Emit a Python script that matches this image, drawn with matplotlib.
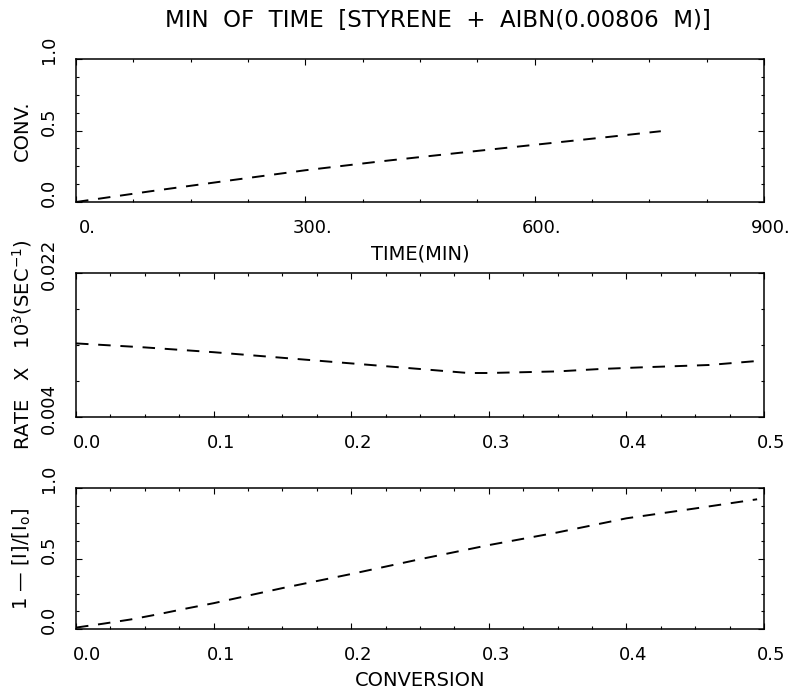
import numpy as np
import matplotlib
matplotlib.use("Agg")
import matplotlib.pyplot as plt
from matplotlib.transforms import ScaledTranslation
from matplotlib.ticker import MultipleLocator, FixedLocator

plt.rcParams['font.family'] = ['DejaVu Sans']
plt.rcParams['lines.scale_dashes'] = False
plt.rcParams['mathtext.fontset'] = 'dejavusans'

# --- data ---
time_min = [0, 100, 200, 300, 400, 500, 600, 700, 765]
conv_time = [0.0, 0.077, 0.150, 0.222, 0.285, 0.343, 0.400, 0.457, 0.495]

conv_rate = [0.0, 0.05, 0.10, 0.15, 0.20, 0.25, 0.285, 0.30, 0.35, 0.381, 0.41, 0.46, 0.495]
rate_vals = [0.0132, 0.0127, 0.0121, 0.0114, 0.0107, 0.0100, 0.0095, 0.0095, 0.0097, 0.0100, 0.0102, 0.0105, 0.0110]

conv_init = [0.0, 0.02, 0.04, 0.06, 0.08, 0.10, 0.15, 0.20, 0.25, 0.30, 0.35, 0.40, 0.45, 0.495]
init_frac = [0.01, 0.038, 0.068, 0.105, 0.145, 0.183, 0.29, 0.39, 0.495, 0.595, 0.685, 0.785, 0.855, 0.92]

time_ticks = [0, 300, 600, 900]
time_labels = ['0.', '300.', '600.', '900.']
conv_ticks = [0.0, 0.1, 0.2, 0.3, 0.4, 0.5]
conv_labels = ['0.0', '0.1', '0.2', '0.3', '0.4', '0.5']
frac_ticks = [0.0, 0.5, 1.0]
frac_labels = ['0.0', '0.5', '1.0']
rate_ticks = [0.004, 0.022]
rate_labels = ['0.004', '0.022']

title = 'MIN  OF  TIME  [STYRENE  +  AIBN(0.00806  M)]'

W, H = 794, 692
fig = plt.figure(figsize=(W / 100, H / 100), dpi=100)

L, R = 76, 764

def px_axes(top, bottom):
    return fig.add_axes([L / W, 1 - bottom / H, (R - L) / W, (bottom - top) / H])

ax1 = px_axes(59, 202)
ax2 = px_axes(273, 417)
ax3 = px_axes(488, 629)

dash = dict(color='black', lw=1.4, dashes=(9, 7))
ax1.plot(time_min, conv_time, **dash)
ax2.plot(conv_rate, rate_vals, **dash)
ax3.plot(conv_init, init_frac, **dash)

TICK_FS = 13
LABEL_FS = 14

def shift(lab, dx_px, dy_px):
    lab.set_transform(lab.get_transform() + ScaledTranslation(dx_px / 100, dy_px / 100, fig.dpi_scale_trans))

def style(ax):
    for s in ax.spines.values():
        s.set_linewidth(1.1)
    ax.tick_params(which='both', direction='in', top=True, right=True, width=0.8,
                   labelsize=TICK_FS)
    ax.tick_params(which='major', length=4)
    ax.tick_params(which='minor', length=2.3)
    ax.tick_params(axis='x', pad=12)
    ax.tick_params(axis='y', pad=13)
    for lab in ax.get_yticklabels():
        lab.set_rotation(90)
        lab.set_va('center')
        shift(lab, 0, 9)
    for i, lab in enumerate(ax.get_xticklabels()):
        shift(lab, 11 if i == 0 else 7, 0)

# top panel
ax1.set_xlim(0, 900)
ax1.set_ylim(0, 1)
ax1.set_xticks(time_ticks)
ax1.set_xticklabels(time_labels)
ax1.xaxis.set_minor_locator(MultipleLocator(75))
ax1.set_yticks(frac_ticks)
ax1.set_yticklabels(frac_labels)
ax1.yaxis.set_minor_locator(MultipleLocator(0.125))
style(ax1)
ax1.set_xlabel('TIME(MIN)', fontsize=LABEL_FS)
ax1.set_ylabel('CONV.', fontsize=LABEL_FS)

# middle panel
ax2.set_xlim(0, 0.5)
ax2.set_ylim(0.004, 0.022)
ax2.set_xticks(conv_ticks)
ax2.set_xticklabels(conv_labels)
ax2.xaxis.set_minor_locator(MultipleLocator(0.025))
ax2.set_yticks(rate_ticks)
ax2.set_yticklabels(rate_labels)
ax2.yaxis.set_minor_locator(FixedLocator([0.0085, 0.013, 0.0175]))
style(ax2)
ax2.set_ylabel(r'RATE   X   10$^3$(SEC$^{-1}$)', fontsize=LABEL_FS)

# bottom panel
ax3.set_xlim(0, 0.5)
ax3.set_ylim(0, 1)
ax3.set_xticks(conv_ticks)
ax3.set_xticklabels(conv_labels)
ax3.xaxis.set_minor_locator(MultipleLocator(0.025))
ax3.set_yticks(frac_ticks)
ax3.set_yticklabels(frac_labels)
ax3.yaxis.set_minor_locator(MultipleLocator(0.125))
style(ax3)
ax3.set_xlabel('CONVERSION', fontsize=LABEL_FS)
ax3.set_ylabel(r'1 — [I]/[I$_\mathrm{o}$]', fontsize=LABEL_FS)

for ax in (ax1, ax2, ax3):
    ax.yaxis.set_label_coords((22 - L) / (R - L), 0.5)
    ax.yaxis.label.set_va('center')
for ax in (ax1, ax3):
    ax.xaxis.set_label_coords(0.5, -52 / 143)
    ax.xaxis.label.set_va('center')

fig.text(438 / W, 1 - 20 / H, title, ha='center', va='center', fontsize=16.5)

fig.savefig('out.png', dpi=100)
